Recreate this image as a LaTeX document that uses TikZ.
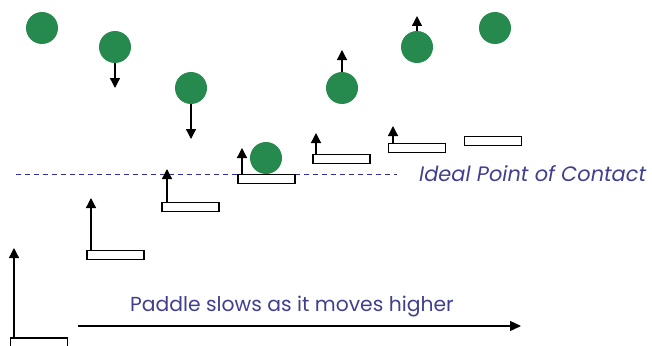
\documentclass[tikz,border=0pt]{standalone}
\usepackage{fontspec}
\setmainfont{Poppins}
\usetikzlibrary{arrows.meta}
\definecolor{ballgreen}{HTML}{268A4E}
\definecolor{txtblue}{HTML}{40408F}
\definecolor{dashblue}{HTML}{2F2F9F}
\begin{document}
\begin{tikzpicture}[x=1pt,y=-1pt,
  ball/.style={circle,fill=ballgreen,minimum size=32pt,inner sep=0pt},
  paddle/.style={draw=black,line width=1.6pt,fill=white,minimum width=57pt,minimum height=9pt,inner sep=0pt},
  arr/.style={line width=1.3pt,-{Triangle[width=10pt,length=10pt]}},
  lbl/.style={text=txtblue,inner sep=0pt}]
\useasboundingbox (0,0) rectangle (652,345);
% dashed ideal line
\coordinate (dl) at (16,174);
\coordinate (dr) at (397,174);
\draw[dashblue,line width=0.9pt,dash pattern=on 5pt off 4pt] (dl) -- (dr);
\node[lbl,anchor=west,font=\fontsize{20.9}{24}\selectfont\itshape] (ideal) at (419,174) {Ideal Point of Contact};
% balls
\node[ball] (b1) at (42,28) {};
\node[ball] (b2) at (115,47) {};
\node[ball] (b3) at (191,88) {};
\node[ball] (b4) at (266,158) {};
\node[ball] (b5) at (342,88) {};
\node[ball] (b6) at (417,47) {};
\node[ball] (b7) at (495,28) {};
\coordinate (t2) at (115,88);
\coordinate (t3) at (191,139);
\coordinate (t5) at (342,50);
\coordinate (t6) at (417,16);
\draw[arr] (b2.south) -- (t2);
\draw[arr] (b3.south) -- (t3);
\draw[arr] (b5.north) -- (t5);
\draw[arr] (b6.north) -- (t6);
% paddles
\node[paddle] (p1) at (39,342.5) {};
\node[paddle] (p2) at (115.5,255) {};
\node[paddle] (p3) at (190.5,207) {};
\node[paddle] (p4) at (266.5,179) {};
\node[paddle] (p5) at (341.5,159) {};
\node[paddle] (p6) at (417,148) {};
\node[paddle] (p7) at (493,141) {};
\coordinate (s1) at (14,337.5); \coordinate (u1) at (14,248);
\coordinate (s2) at (91,250.5); \coordinate (u2) at (91,198);
\coordinate (s3) at (167,202.5); \coordinate (u3) at (167,169);
\coordinate (s4) at (242,174.5); \coordinate (u4) at (242,148);
\coordinate (s5) at (316,154.5); \coordinate (u5) at (316,133);
\coordinate (s6) at (393,143.5); \coordinate (u6) at (393,126);
\draw[arr] (s1) -- (u1);
\draw[arr] (s2) -- (u2);
\draw[arr] (s3) -- (u3);
\draw[arr] (s4) -- (u4);
\draw[arr] (s5) -- (u5);
\draw[arr] (s6) -- (u6);
% bottom arrow and label
\coordinate (hl) at (78,326);
\coordinate (hr) at (521,326);
\draw[line width=1.3pt,-{Triangle[width=10pt,length=11pt]}] (hl) -- (hr);
\node[lbl,anchor=base west,font=\fontsize{20.3}{24}\selectfont] (slow) at (130,311.5) {Paddle slows as it moves higher};
\end{tikzpicture}
\end{document}
